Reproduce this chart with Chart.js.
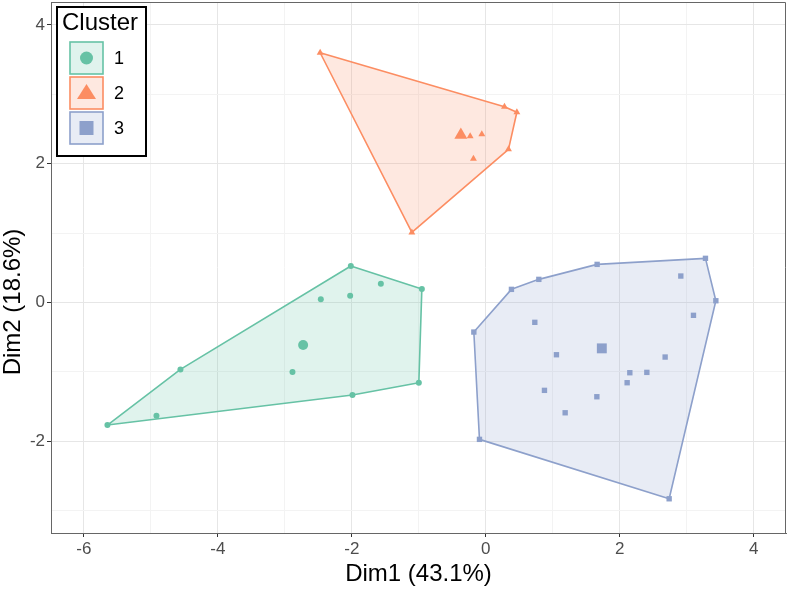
<!DOCTYPE html>
<html>
<head>
<meta charset="utf-8">
<script src="https://cdn.jsdelivr.net/npm/chart.js@4.4.1/dist/chart.umd.min.js"></script>
<style>
  html, body { margin: 0; padding: 0; background: #fff; overflow: hidden; }
  #wrap { width: 788px; height: 589px; position: relative; }
  canvas { display: block; }
</style>
</head>
<body>
<div id="wrap"><canvas id="chart"></canvas></div>
<script>
// pontos de cada cluster (Dim1, Dim2)
const c1X = [-2.015, -1.567, -0.955, -2.463, -2.025, -4.558, -2.886, -1.0, -1.991, -4.916, -5.648]
const c1Y = [0.526, 0.271, 0.195, 0.046, 0.098, -0.963, -1.001, -1.155, -1.333, -1.631, -1.765]
const c1Hull = [10, 5, 0, 2, 7, 8]
const c1Center = [-2.727, -0.612]

const c2X = [-2.473, 0.278, 0.463, -0.234, -0.06, 0.338, -0.185, -1.104]
const c2Y = [3.599, 2.821, 2.741, 2.395, 2.423, 2.207, 2.072, 1.011]
const c2Hull = [0, 1, 2, 5, 7]
const c2Center = [-0.373, 2.414]

const c3X = [3.278, 2.91, 1.661, 0.791, 0.382, 3.433, 3.099, 0.731, -0.179, 1.054, 2.676, 2.149, 2.403, 2.109, 0.875, 1.657, 1.184, -0.095, 2.736]
const c3Y = [0.637, 0.382, 0.55, 0.334, 0.19, 0.026, -0.184, -0.285, -0.425, -0.752, -0.785, -1.011, -1.006, -1.155, -1.265, -1.357, -1.588, -1.971, -2.827]
const c3Hull = [8, 4, 3, 2, 0, 5, 18, 17]
const c3Center = [1.731, -0.66]

const clusterNames = ['1', '2', '3']
const xTickVals = [-6, -5, -4, -3, -2, -1, 0, 1, 2, 3, 4]
const yTickVals = [-3, -2, -1, 0, 1, 2, 3, 4]
const xTitle = 'Dim1 (43.1%)'
const yTitle = 'Dim2 (18.6%)'
const legendTitle = 'Cluster'

const cores = ['#66C2A5', '#FC8D62', '#8DA0CB']
const preench = ['rgba(102,194,165,0.2)', 'rgba(252,141,98,0.2)', 'rgba(141,160,203,0.2)']
const formas = ['circle', 'triangle', 'rect']
const raioPt = [3, 4, 3.8]
const raioCentro = [5, 7.5, 7]
const FONTE = "'Liberation Sans', Arial, sans-serif"

const clusters = [
    { xs: c1X, ys: c1Y, hull: c1Hull, c: c1Center },
    { xs: c2X, ys: c2Y, hull: c2Hull, c: c2Center },
    { xs: c3X, ys: c3Y, hull: c3Hull, c: c3Center }
]

const pontos = []
const centros = []
const cascas = []
clusters.forEach((cl, i) => {
    pontos.push({
        label: clusterNames[i],
        data: cl.xs.map((x, j) => ({ x: x, y: cl.ys[j] })),
        pointStyle: formas[i],
        pointRadius: raioPt[i],
        pointBackgroundColor: cores[i],
        pointBorderWidth: 0,
        pointHoverRadius: raioPt[i]
    })
    centros.push({
        label: 'centro ' + clusterNames[i],
        data: [{ x: cl.c[0], y: cl.c[1] }],
        pointStyle: formas[i],
        pointRadius: raioCentro[i],
        pointBackgroundColor: cores[i],
        pointBorderWidth: 0,
        pointHoverRadius: raioCentro[i]
    })
    const poly = cl.hull.map(k => ({ x: cl.xs[k], y: cl.ys[k] }))
    poly.push(poly[0])
    cascas.push({
        type: 'line',
        label: 'casca ' + clusterNames[i],
        data: poly,
        borderColor: cores[i],
        borderWidth: 1.6,
        backgroundColor: preench[i],
        fill: 'shape',
        tension: 0,
        pointRadius: 0,
        pointHoverRadius: 0,
        borderJoinStyle: 'round'
    })
})

// moldura, titulo do eixo y e legenda
const extras = {
    id: 'extras',
    afterDraw(chart) {
        const ctx = chart.ctx
        const a = chart.chartArea
        ctx.save()
        ctx.strokeStyle = '#666'
        ctx.lineWidth = 1
        ctx.beginPath()
        ctx.moveTo(a.left, a.top + 0.5)
        ctx.lineTo(a.right - 0.5, a.top + 0.5)
        ctx.lineTo(a.right - 0.5, a.bottom)
        ctx.stroke()

        // titulo y
        ctx.save()
        ctx.translate(13, 302)
        ctx.rotate(-Math.PI / 2)
        ctx.fillStyle = '#000'
        ctx.font = '24px ' + FONTE
        ctx.textAlign = 'center'
        ctx.textBaseline = 'middle'
        ctx.fillText(yTitle, 0, 0)
        ctx.restore()

        // legenda
        ctx.fillStyle = '#fff'
        ctx.fillRect(57, 7, 89, 149)
        ctx.strokeStyle = '#000'
        ctx.lineWidth = 2
        ctx.strokeRect(57, 7, 89, 149)
        ctx.fillStyle = '#000'
        ctx.font = '24px ' + FONTE
        ctx.textAlign = 'left'
        ctx.textBaseline = 'middle'
        ctx.fillText(legendTitle, 62, 23)
        const topos = [42, 77, 112]
        clusterNames.forEach((nome, i) => {
            const bx = 70, by = topos[i], bw = 33, bh = 32
            ctx.fillStyle = '#fff'
            ctx.fillRect(bx, by, bw, bh)
            ctx.fillStyle = preench[i]
            ctx.fillRect(bx, by, bw, bh)
            ctx.strokeStyle = cores[i]
            ctx.lineWidth = 1.6
            ctx.strokeRect(bx, by, bw, bh)
            const cx = bx + bw / 2, cy = by + bh / 2
            ctx.fillStyle = cores[i]
            ctx.beginPath()
            if (formas[i] === 'circle') {
                ctx.arc(cx, cy, 6.5, 0, Math.PI * 2)
            } else if (formas[i] === 'triangle') {
                ctx.moveTo(cx, cy - 9)
                ctx.lineTo(cx + 9.5, cy + 6)
                ctx.lineTo(cx - 9.5, cy + 6)
                ctx.closePath()
            } else {
                ctx.rect(cx - 7, cy - 7, 14, 14)
            }
            ctx.fill()
            ctx.fillStyle = '#000'
            ctx.font = '18px ' + FONTE
            ctx.fillText(nome, 114, cy + 1)
        })
        ctx.restore()
    }
}

const gradeCor = (c) => (c.tick && c.tick.value % 2 === 0) ? '#e6e6e6' : '#f3f3f3'
const tickCor = (c) => (c.tick && c.tick.value % 2 === 0) ? '#333' : 'rgba(0,0,0,0)'
const rotulo = (v) => (v % 2 === 0) ? String(v) : ''

new Chart(document.getElementById('chart'), {
    type: 'scatter',
    data: { datasets: [...pontos, ...centros, ...cascas] },
    options: {
        responsive: true,
        maintainAspectRatio: false,
        animation: false,
        layout: { autoPadding: false, padding: { top: 2, right: 2, left: 0, bottom: 0 } },
        plugins: { legend: { display: false }, tooltip: { enabled: false } },
        scales: {
            x: {
                type: 'linear',
                min: -6.49,
                max: 4.48,
                afterBuildTicks: (axis) => { axis.ticks = xTickVals.map(v => ({ value: v })) },
                afterFit: (scale) => {
                    scale.height = 56
                    scale.paddingLeft = 0
                    scale.paddingRight = 0
                },
                ticks: {
                    callback: rotulo,
                    autoSkip: false,
                    maxRotation: 0,
                    padding: 2,
                    color: '#4d4d4d',
                    font: { family: FONTE, size: 17 }
                },
                grid: { color: gradeCor, tickColor: tickCor, tickLength: 4, lineWidth: 1 },
                border: { display: true, color: '#666', width: 1 },
                title: {
                    display: true,
                    text: xTitle,
                    color: '#000',
                    font: { family: FONTE, size: 24 },
                    padding: { top: 0, bottom: 0 }
                }
            },
            y: {
                type: 'linear',
                min: -3.32,
                max: 4.33,
                afterBuildTicks: (axis) => { axis.ticks = yTickVals.map(v => ({ value: v })) },
                afterFit: (scale) => {
                    scale.width = 51
                    scale.paddingTop = 0
                    scale.paddingBottom = 0
                },
                ticks: {
                    callback: rotulo,
                    autoSkip: false,
                    padding: 2,
                    color: '#4d4d4d',
                    font: { family: FONTE, size: 17 }
                },
                grid: { color: gradeCor, tickColor: tickCor, tickLength: 4, lineWidth: 1 },
                border: { display: true, color: '#666', width: 1 },
                title: { display: false }
            }
        }
    },
    plugins: [extras]
})
</script>
</body>
</html>
